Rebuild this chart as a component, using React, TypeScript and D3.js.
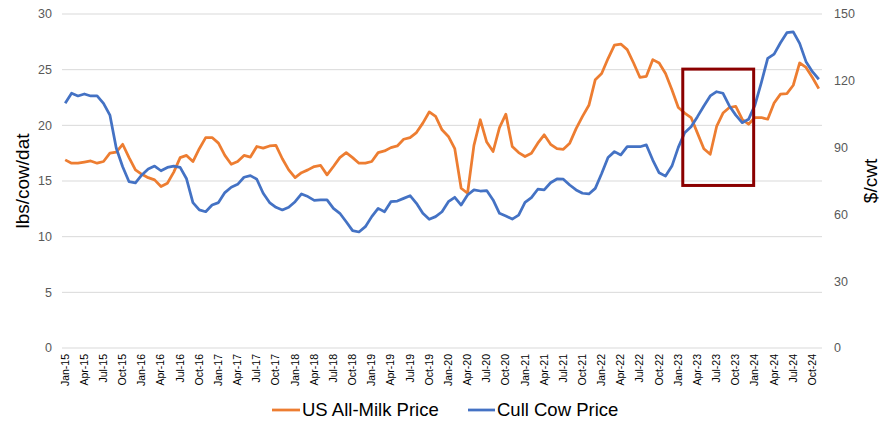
import React from "react";
import * as d3 from "d3";

const monthNames = ["Jan", "Feb", "Mar", "Apr", "May", "Jun", "Jul", "Aug", "Sep", "Oct", "Nov", "Dec"];
const months: string[] = [];
for (let y = 15; y <= 24; y++) for (let m = 0; m < 12; m++) months.push(`${monthNames[m]}-${y}`);
const categories = months.slice(0, 119); // Jan-15 .. Nov-24

const milkPrice = [
  16.9, 16.6, 16.6, 16.7, 16.8, 16.6, 16.75, 17.5, 17.6, 18.3, 17.1, 16.0,
  15.6, 15.3, 15.1, 14.5, 14.8, 15.8, 17.1, 17.3, 16.75, 17.9, 18.9, 18.9,
  18.4, 17.3, 16.5, 16.75, 17.3, 17.15, 18.1, 17.95, 18.15, 18.2, 17.0, 16.0,
  15.3, 15.75, 16.0, 16.3, 16.4, 15.55, 16.3, 17.1, 17.55, 17.1, 16.6, 16.6,
  16.75, 17.55, 17.7, 18.0, 18.15, 18.75, 18.9, 19.35, 20.2, 21.2, 20.8, 19.6,
  19.0, 17.9, 14.35, 13.9, 18.2, 20.5, 18.5, 17.65, 19.8, 21.0, 18.1, 17.55,
  17.2, 17.5, 18.4, 19.15, 18.3, 17.9, 17.85, 18.4, 19.7, 20.8, 21.8, 24.1,
  24.65, 26.0, 27.2, 27.3, 26.8, 25.6, 24.3, 24.4, 25.9, 25.6, 24.65, 23.2,
  21.6, 21.1, 20.7, 19.3, 17.9, 17.4, 19.9, 21.1, 21.6, 21.7, 20.55, 20.1,
  20.7, 20.7, 20.55, 22.0, 22.8, 22.85, 23.6, 25.6, 25.2, 24.3, 23.3,
];

const cullCowPrice = [
  109.9, 114.4, 113.2, 114.1, 113.2, 113.2, 109.9, 104.6, 89.7, 81.4, 74.7, 74.2,
  77.7, 80.4, 81.7, 79.6, 81.1, 81.7, 81.1, 76.0, 65.3, 62.0, 61.2, 64.2,
  65.3, 69.8, 72.2, 73.5, 76.7, 77.4, 75.8, 69.5, 65.3, 63.2, 62.0, 63.2,
  65.7, 69.2, 68.0, 66.3, 66.5, 66.5, 62.7, 60.5, 56.7, 52.7, 52.1, 54.5,
  59.0, 62.7, 61.2, 65.7, 66.0, 67.2, 68.4, 65.0, 60.5, 57.8, 59.0, 61.2,
  65.7, 67.7, 64.2, 68.7, 71.0, 70.5, 70.7, 66.5, 60.5, 59.3, 57.9, 59.7,
  65.4, 67.5, 71.3, 71.0, 74.2, 75.9, 75.8, 73.2, 71.0, 69.5, 69.2, 71.7,
  78.4, 85.6, 88.2, 86.7, 90.4, 90.4, 90.4, 91.2, 84.4, 78.7, 77.2, 81.7,
  90.1, 96.7, 99.4, 103.9, 108.7, 113.2, 115.1, 114.4, 108.7, 104.6, 101.2, 102.7,
  109.1, 119.2, 130.1, 132.0, 137.1, 141.6, 142.0, 136.8, 128.6, 124.1, 120.7,
];

const leftTicks = [0, 5, 10, 15, 20, 25, 30];
const rightTicks = [0, 30, 60, 90, 120, 150];
const tickLabels = categories.filter((_, i) => i % 3 === 0);

const seriesNames = ["US All-Milk Price", "Cull Cow Price"];
const seriesColors = ["#ED7D31", "#4472C4"];

// highlight box (fractional month index, left-axis values)
const highlightBox = { startIndex: 96.7, endIndex: 107.8, top: 25.05, bottom: 14.6 };

const W = 884;
const H = 423;
const plot = { left: 62, right: 822, top: 14, bottom: 348 };

export default function App() {
  const band = (plot.right - plot.left) / categories.length;
  const x = d3
    .scaleLinear()
    .domain([0, categories.length - 1])
    .range([plot.left + band / 2, plot.right - band / 2]);
  const yL = d3.scaleLinear().domain([0, 30]).range([plot.bottom, plot.top]);
  const yR = d3.scaleLinear().domain([0, 150]).range([plot.bottom, plot.top]);

  const lineL = d3
    .line<number>()
    .x((_, i) => x(i))
    .y((d) => yL(d));
  const lineR = d3
    .line<number>()
    .x((_, i) => x(i))
    .y((d) => yR(d));

  const font = "'Liberation Sans', Arial, sans-serif";
  const textColor = "#595959";

  return (
    <svg width={W} height={H} style={{ position: "absolute", left: 0, top: 0 }} fontFamily={font}>
      <rect x={0} y={0} width={W} height={H} fill="#fff" />
      {leftTicks.map((t) => (
        <line key={t} x1={plot.left} x2={plot.right} y1={yL(t)} y2={yL(t)} stroke="#d9d9d9" strokeWidth={1} />
      ))}
      {leftTicks.map((t) => (
        <text key={"l" + t} x={52} y={yL(t)} dy="0.35em" textAnchor="end" fontSize={12.5} fill={textColor}>
          {t}
        </text>
      ))}
      {rightTicks.map((t) => (
        <text key={"r" + t} x={834} y={yR(t)} dy="0.35em" textAnchor="start" fontSize={12.5} fill={textColor}>
          {t}
        </text>
      ))}
      {tickLabels.map((lab) => {
        const i = categories.indexOf(lab);
        const px = x(i);
        return (
          <text
            key={lab}
            transform={`translate(${px + 3.5},${plot.bottom + 6}) rotate(-90)`}
            textAnchor="end"
            fontSize={10.5}
            fill="#000"
          >
            {lab}
          </text>
        );
      })}
      <text transform={`translate(29,181) rotate(-90)`} textAnchor="middle" fontSize={19} fill="#000">
        lbs/cow/dat
      </text>
      <text transform={`translate(877,181) rotate(-90)`} textAnchor="middle" fontSize={19} fill="#000">
        $/cwt
      </text>

      <path d={lineL(milkPrice) ?? ""} fill="none" stroke={seriesColors[0]} strokeWidth={2.75} strokeLinejoin="round" />
      <path d={lineR(cullCowPrice) ?? ""} fill="none" stroke={seriesColors[1]} strokeWidth={2.75} strokeLinejoin="round" />

      <rect
        x={x(highlightBox.startIndex)}
        y={yL(highlightBox.top)}
        width={x(highlightBox.endIndex) - x(highlightBox.startIndex)}
        height={yL(highlightBox.bottom) - yL(highlightBox.top)}
        fill="none"
        stroke="#8B0000"
        strokeWidth={3}
      />

      <g>
        <line x1={272} x2={300} y1={410} y2={410} stroke={seriesColors[0]} strokeWidth={2.75} />
        <text x={302} y={410} dy="0.35em" fontSize={18.5} fill="#000">
          {seriesNames[0]}
        </text>
        <line x1={468} x2={495} y1={410} y2={410} stroke={seriesColors[1]} strokeWidth={2.75} />
        <text x={497} y={410} dy="0.35em" fontSize={18.5} fill="#000">
          {seriesNames[1]}
        </text>
      </g>
    </svg>
  );
}
